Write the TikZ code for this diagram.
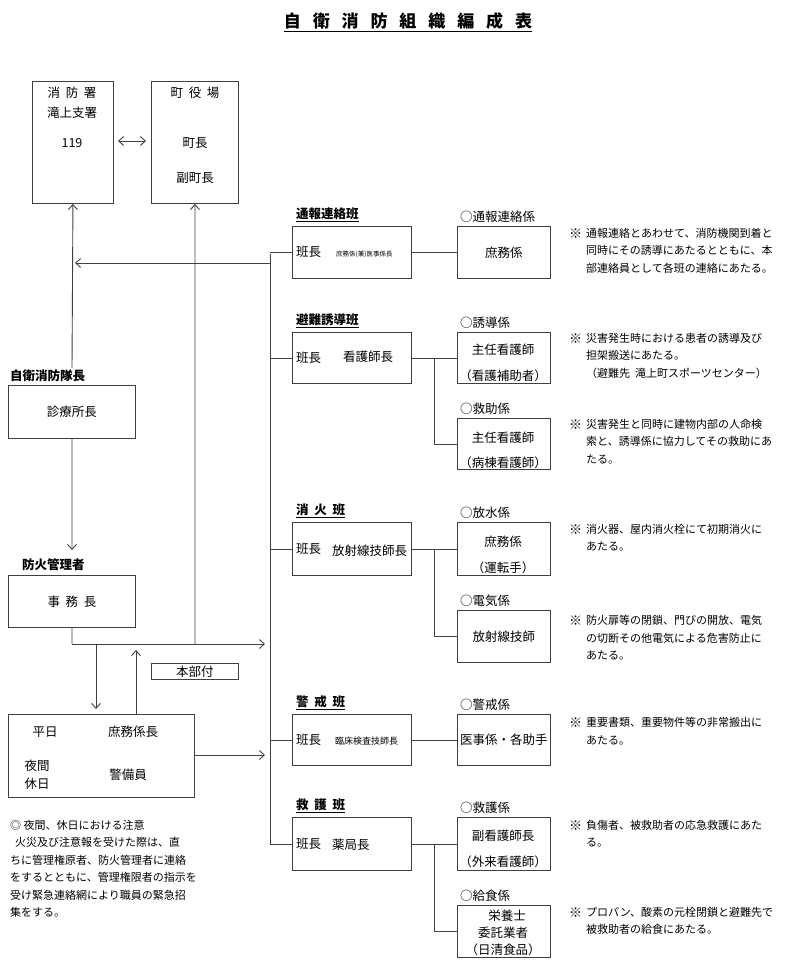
\documentclass[tikz,border=0pt]{standalone}
\usepackage{fontspec}
\setmainfont{Noto Sans CJK JP}
\usetikzlibrary{arrows.meta}
\begin{document}
\begin{tikzpicture}[x=1pt,y=-1pt,
 box/.style={draw=black!75,line width=0.9pt,rectangle,inner sep=0pt},
 t/.style={inner sep=0pt,font=\fontsize{12.5}{14}\selectfont},
 lab/.style={inner sep=0pt,font=\fontsize{12.5}{14}\selectfont\bfseries,anchor=west},
 cl/.style={inner sep=0pt,font=\fontsize{12.5}{14}\selectfont,anchor=west},
 nt/.style={inner sep=0pt,font=\fontsize{11}{17.5}\selectfont,anchor=north west,align=left},
 ln/.style={draw=black!75,line width=0.9pt},
 ar/.style={ln,-{Straight Barb[length=5pt,width=9pt]}},
 ar2/.style={ln,{Straight Barb[length=5pt,width=9pt]}-{Straight Barb[length=5pt,width=9pt]}}]
\useasboundingbox (0,0) rectangle (808,972);
\node[inner sep=0pt,font=\fontsize{17}{20}\selectfont\bfseries] (title) at (408,22) {\underline{自\hspace{0.7em}衛\hspace{0.7em}消\hspace{0.7em}防\hspace{0.7em}組\hspace{0.7em}織\hspace{0.7em}編\hspace{0.7em}成\hspace{0.7em}表}};
% top boxes
\node[box,minimum width=81,minimum height=122,anchor=north west] (fire) at (32,81) {};
\node[t] (f1) at (72,93) {消\ \ 防\ \ 署};
\node[t] (f2) at (72,113) {滝上支署};
\node[t] (f3) at (72,143) {119};
\node[box,minimum width=87,minimum height=122,anchor=north west] (town) at (151,81) {};
\node[t] (t1) at (195,93) {町\ \ 役\ \ 場};
\node[t] (t2) at (195,143) {町長};
\node[t] (t3) at (195,178) {副町長};
\draw[ar2] (118,141) -- (146,141);
% leader
\node[lab] (jl) at (10,376) {自衛消防隊長};
\node[box,minimum width=127,minimum height=53,anchor=north west] (jb) at (8,385) {};
\node[t] at (jb) {診療所長};
\node[lab] (bl) at (22,565) {防火管理者};
\node[box,minimum width=127,minimum height=52,anchor=north west] (bb) at (8,575) {};
\node[t] at (bb) {事\ \ 務\ \ 長};
\draw[ar] (72,368) -- (fire.south);
\draw[ar] (jb.south) -- (72,550);
\coordinate (bus) at (270,263);
\coordinate (j1) at (72,644);
\coordinate (j2) at (195,644);
\draw[ln] (bb.south) -- (j1);
\draw[ar] (j1) -- (265,644);
\draw[ar] (j2) -- (town.south);
\draw[ar] (bus) -- (75,263);
\node[box,minimum width=87,minimum height=16,anchor=north west,font=\fontsize{12.5}{14}\selectfont] (hb) at (151,663) {本部付};
\node[box,minimum width=186,minimum height=83,anchor=north west] (nb) at (8,714) {};
\draw[ar] (96,644) -- (96,709);
\draw[ar] (136,714) -- (136,650);
\node[t] at (45,732) {平日};
\node[t] at (133,732) {庶務係長};
\node[t] at (37,766) {夜間};
\node[t] at (37,784) {休日};
\node[t] at (128,775) {警備員};
\draw[ar] (nb.east |- 0,755) -- (265,755);
\node[nt] at (10,820) {◎\ 夜間、休日における注意\\\ \ 火災及び注意報を受けた際は、直\\ちに管理権原者、防火管理者に連絡\\をするとともに、管理権限者の指示を\\受け緊急連絡網により職員の緊急招\\集をする。};
% bus
\draw[ln] (270,254) -- (270,845);
% groups
\foreach \n/\lbl/\top/\bot in {g1/通報連絡班/226/278, g2/避難誘導班/332/383, g3/消\ \ 火\ \ 班/522/575, g4/警\ \ 戒\ \ 班/714/765, g5/救\ \ 護\ \ 班/817/870}{
  \node[box,minimum width=119,minimum height=\bot-\top,anchor=north west] (\n) at (292,\top) {};
  \node[lab] at (296,\top-11) {\underline{\lbl}};
  \node[cl] at (296,{(\top+\bot)/2}) {班長};
}
\node[cl,font=\fontsize{6.5}{8}\selectfont] at (336,254) {庶務係(兼)医事係長};
\node[cl] at (343,357) {看護師長};
\node[cl] at (332,551) {放射線技師長};
\node[cl,font=\fontsize{9}{11}\selectfont] at (335,741) {臨床検査技師長};
\node[cl] at (332,845) {薬局長};
\foreach \n in {g1,g2,g3,g4,g5}{ \draw[ln] (270,0 |- \n.west) -- (\n.west); }
% children
\foreach \n/\lbl/\top/\bot in {c1/通報連絡係/226/278, c2/誘導係/332/383, c3/救助係/418/469, c4/放水係/522/575, c5/電気係/610/662, c6/警戒係/714/765, c7/救護係/817/870, c8/給食係/905/957}{
  \node[box,minimum width=93,minimum height=\bot-\top,anchor=north west] (\n) at (457,\top) {};
  \node[cl] at (460,\top-9) {○\lbl};
}
\node[t] at (c1) {庶務係};
\node[t] at (503,350) {主任看護師};
\node[t] at (503,376) {（看護補助者）};
\node[t] at (503,438) {主任看護師};
\node[t] at (503,463) {（病棟看護師）};
\node[t] at (503,542) {庶務係};
\node[t] at (503,568) {（運転手）};
\node[t] at (c5) {放射線技師};
\node[t] at (c6) {医事係・各助手};
\node[t] at (503,836) {副看護師長};
\node[t] at (503,862) {（外来看護師）};
\node[t] at (507,916) {栄養士};
\node[t] at (503,933) {委託業者};
\node[t] at (503,950) {（日清食品）};
\draw[ln] (g1) -- (c1);
\draw[ln] (g2.east) -- (c2.west |- g2.east);
\draw[ln] (434,0 |- g2.east) |- (c3.west);
\draw[ln] (g3.east) -- (c4.west |- g3.east);
\draw[ln] (434,0 |- g3.east) |- (c5.west);
\draw[ln] (g4) -- (c6);
\draw[ln] (g5.east) -- (c7.west |- g5.east);
\draw[ln] (434,0 |- g5.east) |- (c8.west);
% notes
\foreach \y/\txt in {228/{通報連絡とあわせて、消防機関到着と\\同時にその誘導にあたるとともに、本\\部連絡員として各班の連絡にあたる。},
 333/{災害発生時における患者の誘導及び\\担架搬送にあたる。\\（避難先\ \ 滝上町スポーツセンター）},
 419/{災害発生と同時に建物内部の人命検\\索と、誘導係に協力してその救助にあ\\たる。},
 524/{消火器、屋内消火栓にて初期消火に\\あたる。},
 615/{防火扉等の閉鎖、門びの開放、電気\\の切断その他電気による危害防止に\\あたる。},
 717/{重要書類、重要物件等の非常搬出に\\あたる。},
 820/{負傷者、被救助者の応急救護にあた\\る。},
 907/{プロパン、酸素の元栓閉鎖と避難先で\\被救助者の給食にあたる。}}{
  \node[nt,font=\fontsize{13}{17.5}\selectfont] at (569,\y+1) {※};
  \node[nt] at (586,\y) {\txt};
}
\end{tikzpicture}
\end{document}
